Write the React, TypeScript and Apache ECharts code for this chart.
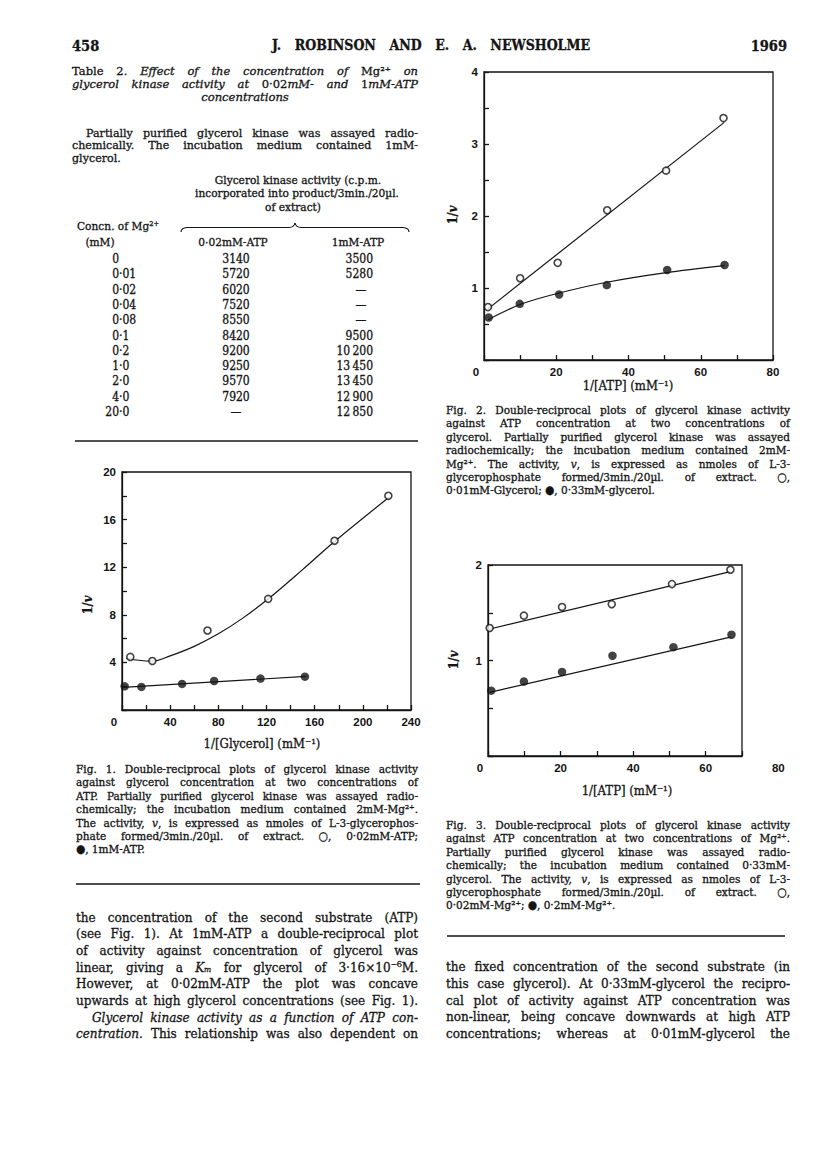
import React, { useEffect, useRef } from "react";
import * as echarts from "echarts";

// ---------------- Data ----------------
// Fig. 1: 1/v against 1/[Glycerol] (mM^-1)
const fig1OpenX = [6.9, 25.2, 71, 121.4, 176.5, 221.2]; // 0.02mM-ATP
const fig1OpenY = [4.46, 4.12, 6.68, 9.34, 14.22, 18.0];
const fig1FilledX = [2.2, 16.1, 49.9, 76.5, 115, 151.9]; // 1mM-ATP
const fig1FilledY = [1.99, 1.94, 2.19, 2.44, 2.64, 2.8];
const fig1OpenFitX = [3.6, 12, 25, 40, 60, 80, 100, 121, 150, 177, 222];
const fig1OpenFitY = [4.35, 4.2, 4.1, 4.55, 5.35, 6.4, 7.7, 9.3, 11.8, 14.2, 17.9];
const fig1FilledFitX = [1, 153];
const fig1FilledFitY = [1.9, 2.83];
const fig1XLabels = [0, 40, 80, 120, 160, 200, 240];
const fig1YLabels = [4, 8, 12, 16, 20];

// Fig. 2: 1/v against 1/[ATP] at two glycerol concentrations
const fig2OpenX = [1.1, 10.0, 20.4, 34.1, 50.4, 66.3]; // 0.01mM-glycerol
const fig2OpenY = [0.735, 1.135, 1.35, 2.08, 2.63, 3.36];
const fig2FilledX = [1.3, 9.9, 20.8, 34.0, 50.7, 66.6]; // 0.33mM-glycerol
const fig2FilledY = [0.59, 0.78, 0.91, 1.04, 1.25, 1.32];
const fig2OpenFitX = [1.1, 66.5];
const fig2OpenFitY = [0.71, 3.3];
const fig2FilledFitX = [1.1, 10, 20, 34, 50, 66.5];
const fig2FilledFitY = [0.56, 0.77, 0.92, 1.08, 1.21, 1.31];
const fig2XLabels = [0, 20, 40, 60, 80];
const fig2YLabels = [1, 2, 3, 4];

// Fig. 3: 1/v against 1/[ATP] at two Mg2+ concentrations
const fig3OpenX = [0.46, 9.9, 20.4, 34.1, 50.7, 66.8]; // 0.02mM-Mg2+
const fig3OpenY = [1.34, 1.47, 1.56, 1.59, 1.8, 1.95];
const fig3FilledX = [0.9, 9.9, 20.4, 34.3, 51.1, 67.1]; // 0.2mM-Mg2+
const fig3FilledY = [0.684, 0.78, 0.88, 1.05, 1.14, 1.27];
const fig3OpenFitX = [0.5, 66.8];
const fig3OpenFitY = [1.33, 1.93];
const fig3FilledFitX = [0.5, 66.8];
const fig3FilledFitY = [0.667, 1.245];
const fig3XLabels = [0, 20, 40, 60];
const fig3ExtraXLabel = 80;
const fig3YLabels = [1, 2];

// Table 2
const mgConc = ["0", "0·01", "0·02", "0·04", "0·08", "0·1", "0·2", "1·0", "2·0", "4·0", "20·0"];
const activityAtp002 = [3140, 5720, 6020, 7520, 8550, 8420, 9200, 9250, 9570, 7920, null];
const activityAtp1 = [3500, 5280, null, null, null, 9500, 10200, 13450, 13450, 12900, 12850];

// Texts
const table2Title = [
  "Table 2. *Effect of the concentration of* Mg²⁺ *on*",
  "*glycerol kinase activity at* 0·02*mM- and* 1*mM-ATP*",
  "*concentrations*",
];
const table2Note = [
  "Partially purified glycerol kinase was assayed radio-",
  "chemically. The incubation medium contained 1mM-",
  "glycerol.",
];
const table2Head = ["Glycerol kinase activity (c.p.m.", "incorporated into product/3min./20µl.", "of extract)"];
const fig1Caption = [
  "Fig. 1. Double-reciprocal plots of glycerol kinase activity",
  "against glycerol concentration at two concentrations of",
  "ATP. Partially purified glycerol kinase was assayed radio-",
  "chemically; the incubation medium contained 2mM-Mg²⁺.",
  "The activity, *v*, is expressed as nmoles of L-3-glycerophos-",
  "phate formed/3min./20µl. of extract. ○, 0·02mM-ATP;",
  "●, 1mM-ATP.",
];
const fig2Caption = [
  "Fig. 2. Double-reciprocal plots of glycerol kinase activity",
  "against ATP concentration at two concentrations of",
  "glycerol. Partially purified glycerol kinase was assayed",
  "radiochemically; the incubation medium contained 2mM-",
  "Mg²⁺. The activity, *v*, is expressed as nmoles of L-3-",
  "glycerophosphate formed/3min./20µl. of extract. ○,",
  "0·01mM-Glycerol; ●, 0·33mM-glycerol.",
];
const fig3Caption = [
  "Fig. 3. Double-reciprocal plots of glycerol kinase activity",
  "against ATP concentration at two concentrations of Mg²⁺.",
  "Partially purified glycerol kinase was assayed radio-",
  "chemically; the incubation medium contained 0·33mM-",
  "glycerol. The activity, *v*, is expressed as nmoles of L-3-",
  "glycerophosphate formed/3min./20µl. of extract. ○,",
  "0·02mM-Mg²⁺; ●, 0·2mM-Mg²⁺.",
];
const leftBody = [
  "the concentration of the second substrate (ATP)",
  "(see Fig. 1). At 1mM-ATP a double-reciprocal plot",
  "of activity against concentration of glycerol was",
  "linear, giving a *Kₘ* for glycerol of 3·16×10⁻⁶M.",
  "However, at 0·02mM-ATP the plot was concave",
  "upwards at high glycerol concentrations (see Fig. 1).",
  "*Glycerol kinase activity as a function of ATP con-*",
  "*centration.* This relationship was also dependent on",
];
const rightBody = [
  "the fixed concentration of the second substrate (in",
  "this case glycerol). At 0·33mM-glycerol the recipro-",
  "cal plot of activity against ATP concentration was",
  "non-linear, being concave downwards at high ATP",
  "concentrations; whereas at 0·01mM-glycerol the",
];

// ---------------- Helpers ----------------
const SERIF = '"DejaVu Serif Condensed", "DejaVu Serif", "Liberation Serif", serif';
const SERIF_WIDE = '"DejaVu Serif", "Liberation Serif", serif';
const SANS = '"Liberation Sans", Arial, sans-serif';
const INK = "#141414";
const INK_STROKE = 0.3;

let ctx: CanvasRenderingContext2D | null = null;
function measure(t: string, size: number, italic: boolean, weight = "normal", family = SERIF) {
  if (!ctx) ctx = document.createElement("canvas").getContext("2d");
  ctx!.font = `${italic ? "italic" : "normal"} ${weight} ${size}px ${family}`;
  return ctx!.measureText(t).width;
}

type Run = { t: string; i: boolean };
function parseWords(line: string): Run[][] {
  const words: Run[][] = [];
  let italic = false;
  let cur: Run[] = [];
  let buf = "";
  const flush = () => {
    if (buf) {
      cur.push({ t: buf, i: italic });
      buf = "";
    }
  };
  for (const ch of line) {
    if (ch === "*") {
      flush();
      italic = !italic;
    } else if (ch === " ") {
      flush();
      if (cur.length) {
        words.push(cur);
        cur = [];
      }
    } else buf += ch;
  }
  flush();
  if (cur.length) words.push(cur);
  return words;
}

function textEl(t: string, x: number, y: number, size: number, italic = false, weight = "normal", align = "left", family = SERIF, va = "middle") {
  const serif = family !== SANS;
  return {
    type: "text",
    x,
    y,
    silent: true,
    style: {
      text: t,
      fill: INK,
      stroke: serif ? INK : undefined,
      lineWidth: serif ? INK_STROKE : 0,
      fontSize: size,
      fontFamily: family,
      fontStyle: italic ? "italic" : "normal",
      fontWeight: weight,
      align,
      verticalAlign: va,
      textAlign: align,
      textVerticalAlign: va,
    },
  };
}

function naturalWidth(line: string, size: number, weight = "normal", family = SERIF) {
  const words = parseWords(line);
  const total = words.reduce((s, w) => s + w.reduce((a, r) => a + measure(r.t, size, r.i, weight, family), 0), 0);
  return total + measure(" ", size, false, weight, family) * (words.length - 1);
}

type Mode = "justify" | "left" | "center" | "right";
function lineEls(line: string, x0: number, x1: number, y: number, size: number, mode: Mode, weight = "normal", family = SERIF) {
  const words = parseWords(line);
  const widths = words.map((w) => w.reduce((s, r) => s + measure(r.t, size, r.i, weight, family), 0));
  const total = widths.reduce((a, b) => a + b, 0);
  const space = measure(" ", size, false, weight, family);
  let gap = space;
  if (mode === "justify" && words.length > 1) gap = Math.max((x1 - x0 - total) / (words.length - 1), space * 0.35);
  const natural = total + gap * (words.length - 1);
  let x = x0;
  if (mode === "center") x = (x0 + x1) / 2 - natural / 2;
  if (mode === "right") x = x1 - natural;
  const els: any[] = [];
  words.forEach((w) => {
    w.forEach((r) => {
      els.push(textEl(r.t, x, y, size, r.i, weight, "left", family));
      x += measure(r.t, size, r.i, weight, family);
    });
    x += gap;
  });
  return els;
}

// a paragraph: font size fitted so that no line is wider than the column
function block(lines: string[], x0s: number[] | number, x1: number, y0: number, dy: number, target: number, lastJustify = false, family = SERIF) {
  const xs = lines.map((_, k) => (Array.isArray(x0s) ? x0s[k] : x0s));
  let size = target;
  lines.forEach((l, k) => {
    const nat = naturalWidth(l, target, "normal", family);
    const avail = x1 - xs[k];
    if (nat > avail) size = Math.min(size, (target * avail) / nat);
  });
  size = Math.floor(size * 0.995 * 10) / 10;
  const els: any[] = [];
  lines.forEach((l, k) => {
    const isLast = k === lines.length - 1;
    els.push(...lineEls(l, xs[k], x1, y0 + k * dy, size, isLast && !lastJustify ? "left" : "justify", "normal", family));
  });
  return els;
}

function vTitle(x: number, y: number) {
  return {
    type: "group",
    x,
    y,
    rotation: Math.PI / 2,
    silent: true,
    children: lineEls("1/*v*", 0, 0, 0, 12.5, "center", "bold"),
  };
}

const zip = (xs: number[], ys: number[]) => xs.map((x, i) => [x, ys[i]]);

function fmtCount(v: number | null) {
  if (v === null) return "—";
  const s = String(v);
  return s.length > 4 ? s.slice(0, 2) + "\u2009" + s.slice(2) : s;
}

// ---------------- Axes / series ----------------
const grids = [
  { left: 122, top: 472, width: 289, height: 238 },
  { left: 484, top: 72, width: 289, height: 288 },
  { left: 488, top: 565, width: 254, height: 191 },
];

const labelFont = { color: INK, fontFamily: SANS, fontWeight: "bold", fontSize: 11.5 };

function xAxisCfg(gi: number, max: number, interval: number, labels: number[]) {
  return {
    type: "value",
    gridIndex: gi,
    min: 0,
    max,
    interval,
    axisLine: { show: true, onZero: false, lineStyle: { color: INK, width: 1.3 } },
    axisTick: { show: true, inside: true, length: 5, lineStyle: { color: INK, width: 1.3 } },
    splitLine: { show: false },
    axisLabel: {
      ...labelFont,
      margin: 6,
      showMinLabel: true,
      showMaxLabel: true,
      hideOverlap: false,
      formatter: (v: number) => (labels.includes(v) ? (v === 0 ? "{z|0}" : String(v)) : ""),
      rich: { z: { ...labelFont, padding: [0, 16, 0, 0] } },
    },
  };
}

function yAxisCfg(gi: number, max: number, interval: number, labels: number[]) {
  return {
    type: "value",
    gridIndex: gi,
    min: 0,
    max,
    interval,
    axisLine: { show: true, onZero: false, lineStyle: { color: INK, width: 1.3 } },
    axisTick: { show: true, inside: true, length: 5, lineStyle: { color: INK, width: 1.3 } },
    splitLine: { show: false },
    axisLabel: {
      ...labelFont,
      margin: 6,
      showMinLabel: true,
      showMaxLabel: true,
      formatter: (v: number) => (labels.includes(v) ? String(v) : ""),
    },
  };
}

const fitLine = (i: number, xs: number[], ys: number[], smooth: number | boolean) => ({
  type: "line",
  xAxisIndex: i,
  yAxisIndex: i,
  data: zip(xs, ys),
  symbol: "none",
  showSymbol: false,
  smooth,
  lineStyle: { color: INK, width: 1.2 },
  z: 2,
  silent: true,
});
const openPts = (i: number, xs: number[], ys: number[]) => ({
  type: "scatter",
  xAxisIndex: i,
  yAxisIndex: i,
  data: zip(xs, ys),
  symbol: "circle",
  symbolSize: 7,
  itemStyle: { color: "#ffffff", borderColor: INK, borderWidth: 1.6 },
  z: 3,
  silent: true,
});
const filledPts = (i: number, xs: number[], ys: number[]) => ({
  type: "scatter",
  xAxisIndex: i,
  yAxisIndex: i,
  data: zip(xs, ys),
  symbol: "circle",
  symbolSize: 8.5,
  itemStyle: { color: INK },
  z: 3,
  silent: true,
});

function rule(x0: number, x1: number, y: number, w = 1.4) {
  return { type: "line", silent: true, shape: { x1: x0, y1: y, x2: x1, y2: y }, style: { stroke: INK, lineWidth: w } };
}

function pageGraphics() {
  const els: any[] = [];
  // Running head
  els.push(textEl("458", 72, 45, 14.5, false, "bold"));
  els.push(...lineEls("J. ROBINSON AND E. A. NEWSHOLME", 272, 590, 45, 14, "justify", "bold"));
  els.push(textEl("1969", 787, 45, 14.5, false, "bold", "right"));

  // Table 2 title + note
  els.push(...block(table2Title.slice(0, 2), 72, 418, 71, 13, 11.6, true, SERIF_WIDE));
  els.push(...lineEls(table2Title[2], 72, 418, 97, 11.6, "center", "normal", SERIF_WIDE));
  els.push(...block(table2Note, [86, 72, 72], 418, 133, 12.5, 11.2, false, SERIF_WIDE));

  // Table header
  els.push(...lineEls(table2Head[0], 298, 298, 180, 11.8, "center"));
  els.push(...lineEls(table2Head[1], 297, 297, 193, 11.8, "center"));
  els.push(...lineEls(table2Head[2], 293, 293, 207, 11.8, "center"));
  els.push(...lineEls("Concn. of Mg²⁺", 77, 77, 226, 11.8, "left"));
  els.push(...lineEls("(mM)", 100, 100, 242, 11.8, "center"));
  els.push(...lineEls("0·02mM-ATP", 233, 233, 242, 11.8, "center"));
  els.push(...lineEls("1mM-ATP", 358, 358, 242, 11.8, "center"));
  // Brace
  const br = { stroke: INK, lineWidth: 1.1, fill: "none" };
  els.push({ type: "bezierCurve", silent: true, shape: { x1: 181, y1: 232, x2: 187, y2: 227.5, cpx1: 181, cpy1: 228 }, style: br });
  els.push({ type: "line", silent: true, shape: { x1: 187, y1: 227.5, x2: 289, y2: 227.5 }, style: br });
  els.push({ type: "bezierCurve", silent: true, shape: { x1: 289, y1: 227.5, x2: 295, y2: 223, cpx1: 294, cpy1: 227.5 }, style: br });
  els.push({ type: "bezierCurve", silent: true, shape: { x1: 295, y1: 223, x2: 301, y2: 227.5, cpx1: 296, cpy1: 227.5 }, style: br });
  els.push({ type: "line", silent: true, shape: { x1: 301, y1: 227.5, x2: 403, y2: 227.5 }, style: br });
  els.push({ type: "bezierCurve", silent: true, shape: { x1: 403, y1: 227.5, x2: 409, y2: 232, cpx1: 409, cpy1: 228 }, style: br });

  // Table rows
  mgConc.forEach((c, i) => {
    const y = 259 + i * 15.3;
    const [intPart, frac] = c.split("·");
    els.push(textEl(intPart, 119, y, 12, false, "normal", "right"));
    if (frac !== undefined) els.push(textEl("·" + frac, 119, y, 12, false, "normal", "left"));
    els.push(textEl(fmtCount(activityAtp002[i]), 236, y, 12, false, "normal", "center"));
    const v1 = activityAtp1[i];
    els.push(v1 === null ? textEl("—", 361, y, 12, false, "normal", "center") : textEl(fmtCount(v1), 373, y, 12, false, "normal", "right"));
  });
  els.push(rule(75, 418, 441));

  // Axis titles
  els.push(vTitle(87, 605));
  els.push(...lineEls("1/[Glycerol] (mM⁻¹)", 262, 262, 743, 13, "center"));
  els.push(vTitle(452, 215));
  els.push(...lineEls("1/[ATP] (mM⁻¹)", 628, 628, 385, 13, "center"));
  els.push(vTitle(453, 660));
  els.push(...lineEls("1/[ATP] (mM⁻¹)", 627, 627, 790, 13, "center"));

  // Captions
  els.push(...block(fig1Caption, 76, 418, 769, 13.4, 11.8));
  els.push(rule(76, 420, 884));
  els.push(...block(fig2Caption, 446, 790, 410, 13.4, 11.8));
  els.push(...block(fig3Caption, 446, 790, 825, 13.4, 11.8));
  els.push(rule(447, 785, 936));

  // Body text
  els.push(...block(leftBody, [76, 76, 76, 76, 76, 76, 92, 76], 418, 917, 16.7, 13.5, true));
  els.push(...block(rightBody, 446, 790, 966.7, 16.7, 13.5, true));
  return els;
}

function buildOption(extra: any[] = []) {
  return {
    animation: false,
    backgroundColor: "#ffffff",
    grid: grids.map((g) => ({ ...g, show: true, borderColor: INK, borderWidth: 1.3, backgroundColor: "transparent", containLabel: false })),
    xAxis: [xAxisCfg(0, 240, 20, fig1XLabels), xAxisCfg(1, 80, 10, fig2XLabels), xAxisCfg(2, 70, 10, fig3XLabels)],
    yAxis: [yAxisCfg(0, 20, 2, fig1YLabels), yAxisCfg(1, 4, 0.5, fig2YLabels), yAxisCfg(2, 2, 0.5, fig3YLabels)],
    series: [
      fitLine(0, fig1OpenFitX, fig1OpenFitY, 0.35),
      fitLine(0, fig1FilledFitX, fig1FilledFitY, false),
      openPts(0, fig1OpenX, fig1OpenY),
      filledPts(0, fig1FilledX, fig1FilledY),
      fitLine(1, fig2OpenFitX, fig2OpenFitY, false),
      fitLine(1, fig2FilledFitX, fig2FilledFitY, 0.35),
      openPts(1, fig2OpenX, fig2OpenY),
      filledPts(1, fig2FilledX, fig2FilledY),
      fitLine(2, fig3OpenFitX, fig3OpenFitY, false),
      fitLine(2, fig3FilledFitX, fig3FilledFitY, false),
      openPts(2, fig3OpenX, fig3OpenY),
      filledPts(2, fig3FilledX, fig3FilledY),
    ],
    graphic: { elements: [...pageGraphics(), ...extra] },
  };
}

export default function App() {
  const ref = useRef<HTMLDivElement>(null);
  useEffect(() => {
    const el = ref.current;
    if (!el) return;
    const chart = echarts.init(el, null, { renderer: "svg", width: 816, height: 1168 });
    chart.setOption(buildOption());
    const p = chart.convertToPixel({ gridIndex: 2 }, [fig3ExtraXLabel, 0]) as number[];
    const extra = [
      {
        type: "text",
        x: p[0],
        y: p[1] + 6,
        silent: true,
        style: {
          text: String(fig3ExtraXLabel),
          fill: INK,
          fontSize: 11.5,
          fontFamily: SANS,
          fontWeight: "bold",
          align: "center",
          verticalAlign: "top",
          textAlign: "center",
          textVerticalAlign: "top",
        },
      },
    ];
    chart.setOption(buildOption(extra), true);
    return () => chart.dispose();
  }, []);
  return (
    <div
      ref={ref}
      style={{ position: "absolute", left: 0, top: 0, width: 816, height: 1168, background: "#ffffff" }}
    />
  );
}
